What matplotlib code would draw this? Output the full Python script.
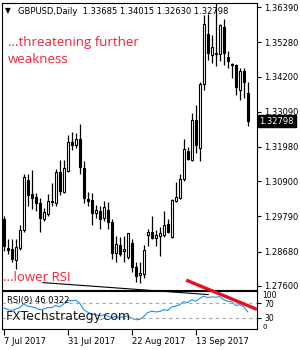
import matplotlib
matplotlib.use("Agg")
import matplotlib.pyplot as plt
import matplotlib.transforms as mtransforms

# daily GBPUSD candles, 7 Jul 2017 onwards
opens = [1.2970, 1.2880, 1.2876, 1.2840, 1.2880, 1.2936, 1.3093, 1.3050, 1.3040, 1.3020,
         1.2970, 1.2986, 1.3026, 1.3020, 1.3119, 1.3056, 1.3123, 1.3213, 1.3203, 1.3223,
         1.3133, 1.3033, 1.3030, 1.2990, 1.2996, 1.2973, 1.3000, 1.2960, 1.2863, 1.2890,
         1.2870, 1.2850, 1.2896, 1.2820, 1.2793, 1.2796, 1.2920, 1.2930, 1.2910, 1.2916,
         1.2920, 1.2956, 1.2913, 1.3026, 1.3036, 1.3096, 1.3186, 1.3156, 1.3283, 1.3196,
         1.3396, 1.3556, 1.3489, 1.3496, 1.3492, 1.3576, 1.3482, 1.3459, 1.3456, 1.3379,
         1.3439, 1.33685]
highs = [1.2980, 1.2906, 1.2906, 1.2906, 1.2953, 1.3113, 1.3113, 1.3126, 1.3053, 1.3036,
         1.3006, 1.3050, 1.3083, 1.3129, 1.3156, 1.3156, 1.3236, 1.3246, 1.3243, 1.3269,
         1.3153, 1.3056, 1.3053, 1.3016, 1.3013, 1.3026, 1.3023, 1.2970, 1.2916, 1.2913,
         1.2916, 1.2926, 1.2906, 1.2836, 1.2836, 1.2890, 1.2940, 1.2980, 1.2936, 1.2946,
         1.2996, 1.2970, 1.3033, 1.3086, 1.3113, 1.3223, 1.3199, 1.3306, 1.3329, 1.3403,
         1.3616, 1.3619, 1.3552, 1.3656, 1.3586, 1.3602, 1.3502, 1.3462, 1.3459, 1.3446,
         1.3446, 1.34015]
lows = [1.2870, 1.2860, 1.2836, 1.2813, 1.2873, 1.2930, 1.3013, 1.3003, 1.2996, 1.2930,
        1.2963, 1.2980, 1.3013, 1.3013, 1.3046, 1.3053, 1.3119, 1.3189, 1.3196, 1.3113,
        1.3020, 1.3013, 1.2953, 1.2973, 1.2940, 1.2963, 1.2940, 1.2846, 1.2836, 1.2853,
        1.2836, 1.2846, 1.2803, 1.2773, 1.2770, 1.2786, 1.2886, 1.2906, 1.2886, 1.2853,
        1.2913, 1.2926, 1.2910, 1.3023, 1.3033, 1.3089, 1.3156, 1.3153, 1.3179, 1.3153,
        1.3379, 1.3472, 1.3462, 1.3452, 1.3469, 1.3456, 1.3446, 1.3416, 1.3363, 1.3346,
        1.3353, 1.32630]
closes = [1.2886, 1.2873, 1.2846, 1.2883, 1.2936, 1.3103, 1.3046, 1.3036, 1.3020, 1.2973,
          1.2993, 1.3026, 1.3023, 1.3119, 1.3059, 1.3133, 1.3213, 1.3203, 1.3223, 1.3136,
          1.3036, 1.3026, 1.2990, 1.3000, 1.2970, 1.3010, 1.2960, 1.2863, 1.2893, 1.2860,
          1.2876, 1.2926, 1.2820, 1.2790, 1.2800, 1.2873, 1.2930, 1.2910, 1.2920, 1.2926,
          1.2953, 1.2930, 1.3030, 1.3040, 1.3096, 1.3193, 1.3159, 1.3283, 1.3203, 1.3396,
          1.3586, 1.3496, 1.3512, 1.3492, 1.3582, 1.3496, 1.3469, 1.3456, 1.3386, 1.3439,
          1.3403, 1.32798]
rsi = [57, 53, 50, 54, 58, 68, 62, 60, 57, 52, 54, 58, 58, 64, 60, 68, 78, 77, 79, 70,
       52, 45, 40, 38, 35, 38, 34, 30, 33, 31, 32, 35, 28, 24, 25, 33, 44, 48, 46, 47,
       52, 50, 60, 62, 66, 75, 72, 80, 76, 84, 90, 86, 88, 87, 89, 80, 76, 74, 64, 66,
       60, 46.0322]

date_idx = [0, 16, 32, 48]
date_labels = ["7 Jul 2017", "31 Jul 2017", "22 Aug 2017", "13 Sep 2017"]
price_ticks = [1.36390, 1.35280, 1.34200, 1.33090, 1.31980, 1.30900, 1.29790, 1.28680, 1.27600]
rsi_levels = [70, 30]

# hand-drawn trend lines (bar index, RSI window units)
black_line_x = [9.8, 51.1]
black_line_y = [128, 94.5]
red_line_x = [45.6, 63.3]
red_line_y = [135, 53]

W, H = 300, 350
fig = plt.figure(figsize=(3, 3.5), dpi=100)


def box(x0, y0, x1, y1):
    return [x0 / W, 1 - y1 / H, (x1 - x0) / W, (y1 - y0) / H]


def ftext(x, y, s, **kw):
    fig.text(x / W, 1 - y / H, s, va="baseline", **kw)


ax = fig.add_axes(box(2, 3, 257, 290))
ax2 = fig.add_axes(box(2, 291, 257, 329))

# candles
idx = list(range(len(closes)))
ax.vlines(idx, lows, highs, color="black", lw=0.9, zorder=2)
bottoms = [min(o, c) for o, c in zip(opens, closes)]
heights = [max(abs(c - o), 0.00006) for o, c in zip(opens, closes)]
faces = ["white" if c >= o else "black" for o, c in zip(opens, closes)]
ax.bar(idx, heights, 0.55, bottoms, color=faces, edgecolor="black", lw=0.8, zorder=3)

ax.set_xlim(-0.425, 63.3)
ax.set_ylim(1.27466, 1.36523)
ax.set_xticks([])
ax.yaxis.tick_right()
ax.set_yticks(price_ticks)
ax.set_yticklabels([f"{v:.5f}" for v in price_ticks])
ax.tick_params(axis="y", length=3, width=0.8, labelsize=6, pad=2, colors="black")
for s in ax.spines.values():
    s.set_linewidth(0.8)

# last price marker
trans = mtransforms.blended_transform_factory(ax.transAxes, ax.transData)
ax.text(1.01, closes[-1], f"{closes[-1]:.5f}", transform=trans, va="center", ha="left",
        color="white", fontsize=6,
        bbox=dict(boxstyle="square,pad=0.2", fc="black", ec="black"), zorder=5)

# RSI window
ax2.plot(idx, rsi, color="#1E90FF", lw=0.8)
for lv in rsi_levels:
    ax2.axhline(lv, color="#A8A8A8", lw=0.8, ls=(0, (3, 3)))
ax2.set_xlim(-0.425, 63.3)
ax2.set_ylim(-2, 104.5)
ax2.yaxis.tick_right()
ax2.set_yticks(rsi_levels)
ax2.set_yticklabels([str(v) for v in rsi_levels])
ax2.tick_params(axis="y", length=3, width=0.8, labelsize=5.5, pad=2)
trans2 = mtransforms.blended_transform_factory(ax2.transAxes, ax2.transData)
ax2.text(1.02, 91, "100", transform=trans2, fontsize=5.5, va="center", ha="left")
ax2.text(1.02, 3, "0", transform=trans2, fontsize=5, va="center", ha="left")
ax2.set_xticks(date_idx)
ax2.set_xticklabels(date_labels, ha="left")
ax2.tick_params(axis="x", length=4, width=0.8, labelsize=6, pad=2)
for s in ax2.spines.values():
    s.set_linewidth(0.8)

ax2.plot(black_line_x, black_line_y, color="black", lw=0.8, clip_on=False, zorder=6)
ax2.plot(red_line_x, red_line_y, color="#E8101E", lw=2.4, clip_on=False, zorder=7,
         solid_capstyle="butt")

# texts
ftext(5, 13, "\u25bc", fontsize=5.5, color="black")
ftext(18, 14, "GBPUSD,Daily  1.33685 1.34015 1.32630 1.32798", fontsize=6, color="black")
ftext(8, 46, "...threatening further", fontsize=9.5, color="#F5203A", family="Open Sans")
ftext(8, 63, "weakness", fontsize=9.5, color="#F5203A", family="Open Sans")
ftext(3, 281, "...lower RSI", fontsize=9.5, color="#F5203A", family="Open Sans")
ftext(7, 303, "RSI(9) 46.0322", fontsize=6, color="black")
ftext(6, 320, "FXTechstrategy.com", fontsize=9, color="#1A1A1A")

fig.savefig("out.png", dpi=100)
